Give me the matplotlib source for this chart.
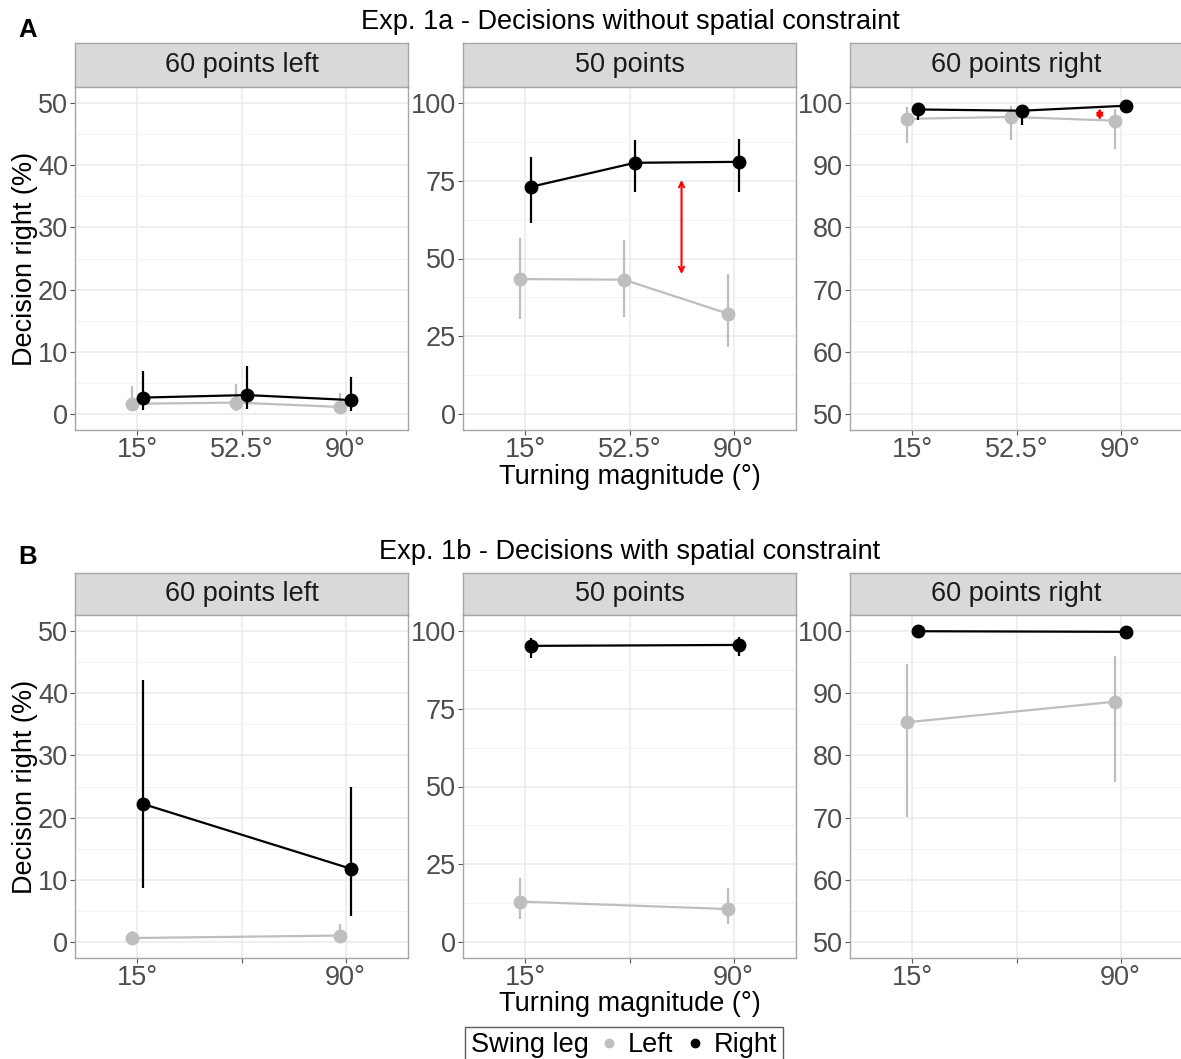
import matplotlib
matplotlib.use("Agg")
import matplotlib.pyplot as plt
from matplotlib.lines import Line2D
from matplotlib.offsetbox import HPacker

plt.rcParams['font.family'] = ['Liberation Sans', 'DejaVu Sans']

# turning magnitudes (deg) and facet names
angles_a = [15, 52.5, 90]
angles_b = [15, 90]
conditions = ["60 points left", "50 points", "60 points right"]

# Exp. 1a - mean % right decisions with interval bounds, one list per facet
a_left = [[1.7, 1.9, 1.2], [43.4, 43.2, 32.3], [97.4, 97.7, 97.1]]
a_left_lo = [[0.5, 0.5, 0.5], [30.7, 31.1, 21.6], [93.6, 94.0, 92.6]]
a_left_hi = [[4.5, 4.8, 3.5], [56.7, 56.0, 45.0], [99.3, 99.4, 99.0]]
a_right = [[2.7, 3.1, 2.3], [73.0, 80.7, 81.0], [98.9, 98.7, 99.5]]
a_right_lo = [[0.7, 0.9, 0.6], [61.5, 71.2, 71.2], [97.2, 96.4, 98.5]]
a_right_hi = [[6.9, 7.7, 6.0], [82.6, 88.0, 88.3], [99.6, 99.3, 99.8]]

# Exp. 1b
b_left = [[0.7, 1.1], [13.1, 10.7], [85.3, 88.6]]
b_left_lo = [[0.3, 0.3], [7.5, 5.9], [70.1, 75.7]]
b_left_hi = [[1.9, 2.9], [20.8, 17.3], [94.6, 95.9]]
b_right = [[22.2, 11.8], [95.1, 95.4], [99.9, 99.8]]
b_right_lo = [[8.7, 4.3], [91.2, 91.9], [99.7, 99.6]]
b_right_hi = [[42.0, 24.9], [97.5, 97.8], [100.0, 100.0]]

# swing-leg difference arrows in Exp. 1a (facet, x, low, high)
gap_facet = [1, 2]
gap_x = [71.25, 82.5]
gap_lo = [45.0, 97.2]
gap_hi = [75.2, 99.1]

y_ranges = [(0, 50), (0, 100), (50, 100)]
y_ticks = [[0, 10, 20, 30, 40, 50], [0, 25, 50, 75, 100],
           [50, 60, 70, 80, 90, 100]]

GREY = "#BEBEBE"
FS = 19.5
W, H = 1181, 1059
fig = plt.figure(figsize=(W / 100, H / 100), dpi=100)


def add_box(left, top, right, bottom):
    return fig.add_axes([left / W, 1 - bottom / H,
                         (right - left) / W, (bottom - top) / H])


def draw_strip(ax, text):
    ax.set_facecolor("#D9D9D9")
    ax.set_xticks([])
    ax.set_yticks([])
    for s in ax.spines.values():
        s.set_color("#A6A6A6")
        s.set_linewidth(1.0)
    ax.text(0.5, 0.5, text, ha="center", va="center", fontsize=FS,
            color="#1A1A1A", transform=ax.transAxes)


def draw_panel(ax, x, left, left_lo, left_hi, right, right_lo, right_hi,
               ylim, yticks, xticklabels):
    lo, hi = ylim
    pad = (hi - lo) * 0.05
    ax.set_ylim(lo - pad, hi + pad)
    ax.set_xlim(-7.5, 112.5)
    ax.set_yticks(yticks)
    ax.set_yticks([(a + b) / 2 for a, b in zip(yticks[:-1], yticks[1:])],
                  minor=True)
    ax.set_xticks([15, 52.5, 90])
    ax.set_xticklabels(xticklabels)
    ax.grid(which="major", color="#EBEBEB", lw=1.1)
    ax.grid(which="minor", axis="y", color="#F3F3F3", lw=0.7)
    ax.set_axisbelow(True)
    ax.tick_params(which="major", length=3.5, width=0.8, color="#555555",
                   labelsize=FS, labelcolor="#4D4D4D", pad=1.5)
    ax.tick_params(which="minor", length=0)
    for s in ax.spines.values():
        s.set_color("#A6A6A6")
        s.set_linewidth(1.0)

    xl = [v - 2 for v in x]
    xr = [v + 2 for v in x]
    ax.vlines(xl, left_lo, left_hi, color=GREY, lw=1.6, zorder=3)
    ax.plot(xl, left, color=GREY, lw=1.6, marker="o", ms=9, zorder=3)
    ax.vlines(xr, right_lo, right_hi, color="black", lw=1.6, zorder=4)
    ax.plot(xr, right, color="black", lw=1.6, marker="o", ms=9, zorder=4)


panel_x = [(75, 408), (463, 796), (850, 1183)]
rows = [
    dict(strip=(43, 87), panel=(87, 430), x=angles_a,
         labels=["15°", "52.5°", "90°"],
         data=(a_left, a_left_lo, a_left_hi, a_right, a_right_lo, a_right_hi),
         title="Exp. 1a - Decisions without spatial constraint",
         title_y=22, tag="A", tag_y=30, xlab_y=477),
    dict(strip=(573, 615), panel=(615, 958), x=angles_b,
         labels=["15°", "", "90°"],
         data=(b_left, b_left_lo, b_left_hi, b_right, b_right_lo, b_right_hi),
         title="Exp. 1b - Decisions with spatial constraint",
         title_y=552, tag="B", tag_y=557, xlab_y=1004),
]

for r, row in enumerate(rows):
    for i, (x0, x1) in enumerate(panel_x):
        strip_ax = add_box(x0, row["strip"][0], x1, row["strip"][1])
        draw_strip(strip_ax, conditions[i])
        ax = add_box(x0, row["panel"][0], x1, row["panel"][1])
        series = [d[i] for d in row["data"]]
        draw_panel(ax, row["x"], *series, y_ranges[i], y_ticks[i],
                   row["labels"])
        if r == 0:
            for f, gx, glo, ghi in zip(gap_facet, gap_x, gap_lo, gap_hi):
                if f == i:
                    ax.annotate("", xy=(gx, glo), xytext=(gx, ghi),
                                arrowprops=dict(arrowstyle="<->", color="red",
                                                lw=1.5, shrinkA=0, shrinkB=0,
                                                mutation_scale=9),
                                zorder=5)
    mid = (row["panel"][0] + row["panel"][1]) / 2
    fig.text(25 / W, 1 - mid / H, "Decision right (%)", rotation=90,
             ha="center", va="center", fontsize=FS)
    fig.text(630 / W, 1 - row["xlab_y"] / H, "Turning magnitude (°)",
             ha="center", va="center", fontsize=FS)
    fig.text(630 / W, 1 - row["title_y"] / H, row["title"],
             ha="center", va="center", fontsize=FS)
    fig.text(28 / W, 1 - row["tag_y"] / H, row["tag"], ha="center",
             va="center", fontsize=18.5, fontweight="bold")

# legend with the title on the same line as the keys
handles = [Line2D([], [], ls="none", marker="o", color=GREY, ms=6),
           Line2D([], [], ls="none", marker="o", color="black", ms=6)]
leg = fig.legend(handles, ["Left", "Right"], title="Swing leg", ncol=2,
                 loc="center", bbox_to_anchor=(624 / W, 1 - 1045 / H),
                 fontsize=FS, title_fontsize=FS, frameon=True,
                 fancybox=False, edgecolor="#333333", handlelength=0.6,
                 handletextpad=0.4, columnspacing=0.5, borderpad=0.2,
                 borderaxespad=0)
leg._legend_box = HPacker(pad=0.2 * FS, sep=0.45 * FS, align="center",
                          children=[leg._legend_title_box,
                                    leg._legend_handle_box])
leg._legend_box.set_figure(fig)
leg._legend_box.set_offset(leg._findoffset)

fig.savefig("out.png", dpi=100)
